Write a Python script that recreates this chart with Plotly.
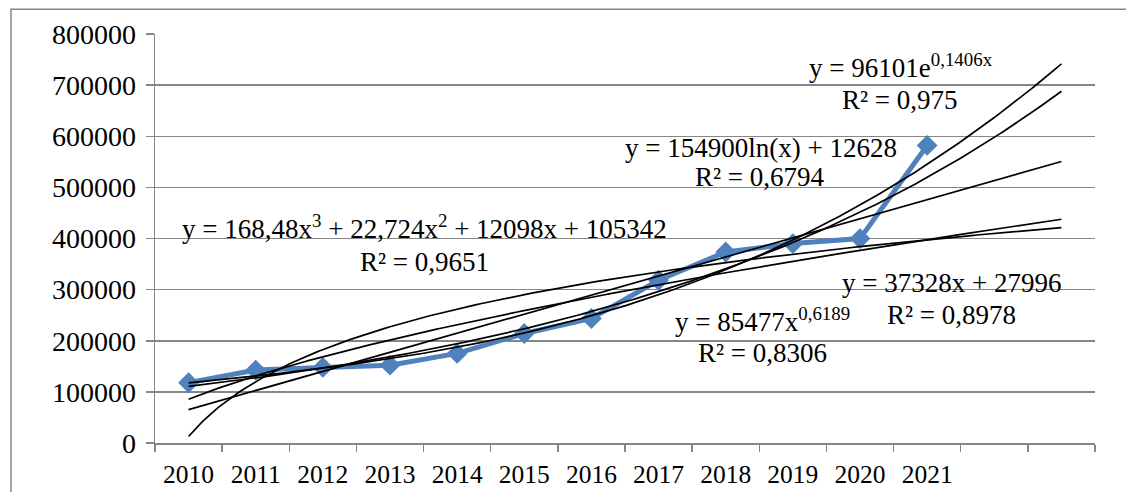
import numpy as np
import plotly.graph_objects as go

# ---- data ----
years = ['2010', '2011', '2012', '2013', '2014', '2015', '2016',
         '2017', '2018', '2019', '2020', '2021']
values = [117800, 142600, 147800, 152300, 175200, 214200, 243500,
          318300, 373600, 390000, 399800, 582000]

# trendline coefficients shown on the chart
poly3_coef = [168.48, 22.724, 12098, 105342]   # x^3, x^2, x, const
exp_coef = [96101, 0.1406]                     # a*e^(b x)
log_coef = [154900, 12628]                     # a*ln(x)+b
lin_coef = [37328, 27996]                      # a*x+b
pow_coef = [85477, 0.6189]                     # a*x^b
forecast_forward = 2

y_ticks = [0, 100000, 200000, 300000, 400000, 500000, 600000, 700000, 800000]

# ---- layout geometry (pixels) ----
W, H = 1126, 492
L, R, T, B = 155, 31, 34, 49
PW, PH = W - L - R, H - T - B
GRID = '#868686'
FONT = 'Liberation Serif'

n = len(years)
x_idx = np.arange(1, n + 1)
xs = np.linspace(1, n + forecast_forward, 300)

trend_curves = [
    np.polyval(poly3_coef, xs),
    exp_coef[0] * np.exp(exp_coef[1] * xs),
    log_coef[0] * np.log(xs) + log_coef[1],
    lin_coef[0] * xs + lin_coef[1],
    pow_coef[0] * xs ** pow_coef[1],
]

fig = go.Figure()
fig.add_trace(go.Scatter(
    x=x_idx, y=values, mode='lines+markers',
    line=dict(color='#4F81BD', width=5),
    marker=dict(symbol='diamond', size=16, color='#4F81BD'),
    hoverinfo='skip'))
for yc in trend_curves:
    fig.add_trace(go.Scatter(x=xs, y=yc, mode='lines',
                             line=dict(color='black', width=1.7),
                             hoverinfo='skip'))


def px2paper(px, py):
    return (px - L) / PW, (H - B - py) / PH


annots = [
    ('y = 96101e<sup>0,1406x</sup>', 901, 66),
    ('R² = 0,975', 900, 100),
    ('y = 154900ln(x) + 12628', 761, 148),
    ('R² = 0,6794', 760, 177),
    ('y = 168,48x<sup>3</sup> + 22,724x<sup>2</sup> + 12098x + 105342', 424, 227),
    ('R² = 0,9651', 424, 262),
    ('y = 37328x + 27996', 951, 283),
    ('R² = 0,8978', 951, 315),
    ('y = 85477x<sup>0,6189</sup>', 762, 320),
    ('R² = 0,8306', 762, 353),
]
annotations = []
for text, px, py in annots:
    ax, ay = px2paper(px, py)
    annotations.append(dict(text=text, x=ax, y=ay, xref='paper', yref='paper',
                            xanchor='center', yanchor='middle', showarrow=False,
                            font=dict(family=FONT, size=27, color='black')))

fx0, fy1 = px2paper(11, 9.3)
fx1, fy0 = px2paper(W + 10, H + 20)

fig.update_layout(
    width=W, height=H,
    margin=dict(l=L, r=R, t=T, b=B, autoexpand=False),
    paper_bgcolor='white', plot_bgcolor='white',
    showlegend=False,
    font=dict(family=FONT, size=26, color='black'),
    annotations=annotations,
    shapes=[dict(type='rect', xref='paper', yref='paper',
                 x0=fx0, x1=fx1, y0=fy0, y1=fy1,
                 line=dict(color=GRID, width=1.5))],
    xaxis=dict(range=[0.5, n + forecast_forward + 0.5], automargin=False,
               tickmode='array', tickvals=list(x_idx), ticktext=years,
               ticks='', showgrid=False, zeroline=False,
               showline=True, linecolor=GRID, linewidth=1.5,
               ticklabelstandoff=8,
               tickfont=dict(family=FONT, size=25.5, color='black'),
               minor=dict(tickmode='array',
                          tickvals=[i + 0.5 for i in range(n + forecast_forward + 1)],
                          ticks='outside', ticklen=7, tickcolor=GRID, tickwidth=1.5,
                          showgrid=False)),
    yaxis=dict(range=[0, 800000], tickmode='array', tickvals=y_ticks,
               ticktext=[str(v) for v in y_ticks], automargin=False,
               ticks='outside', ticklen=8, tickcolor=GRID, tickwidth=1.5,
               showgrid=True, gridcolor=GRID, gridwidth=1.5,
               zeroline=False, showline=True, linecolor=GRID, linewidth=1.5,
               ticklabelstandoff=4,
               tickfont=dict(family=FONT, size=28, color='black')),
)

fig.write_html('out.html',
               config={'displayModeBar': False, 'staticPlot': True},
               post_script="document.body.style.margin='0px';"
                           "document.body.style.overflow='hidden';")
